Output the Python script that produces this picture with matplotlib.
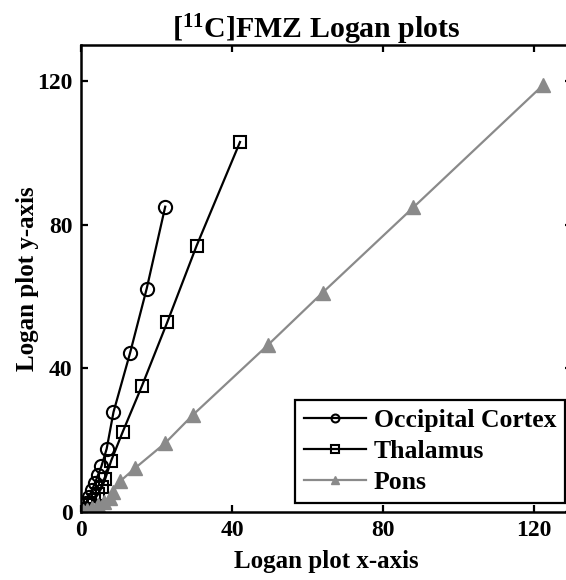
import matplotlib
matplotlib.use("Agg")
import matplotlib.pyplot as plt

plt.rcParams['font.family'] = ['Liberation Serif', 'DejaVu Serif']
plt.rcParams['font.weight'] = 'bold'
plt.rcParams['mathtext.fontset'] = 'custom'
plt.rcParams['mathtext.rm'] = 'Liberation Serif:bold'
plt.rcParams['mathtext.bf'] = 'Liberation Serif:bold'
plt.rcParams['mathtext.default'] = 'bf'

# Logan plot points per region
occ_x = [0.5, 1.3, 2.1, 2.9, 3.7, 4.5, 5.4, 6.8, 8.6, 13.0, 17.4, 22.3]
occ_y = [0.8, 2.5, 4.2, 6.1, 8.1, 10.3, 12.7, 17.6, 27.8, 44.3, 62.2, 85.0]

thal_x = [0.5, 1.3, 2.4, 3.4, 4.5, 5.6, 6.4, 8.0, 11.0, 16.1, 22.9, 30.6, 42.1]
thal_y = [0.3, 0.8, 2.0, 3.4, 5.0, 7.0, 9.2, 14.3, 22.2, 35.0, 53.0, 74.1, 103.0]

pons_x = [0.5, 1.6, 2.9, 4.5, 6.1, 7.6, 8.5, 10.3, 14.3, 22.3, 29.7, 49.4, 64.0, 88.0, 122.3]
pons_y = [0.3, 0.6, 1.1, 1.9, 2.8, 3.8, 5.7, 8.5, 12.2, 19.2, 27.1, 46.4, 61.1, 84.8, 118.8]

ticks = [0, 40, 80, 120]
grey = '#8a8a8a'

fig = plt.figure(figsize=(5.66, 5.8), dpi=100)
ax = fig.add_axes([0.1431, 0.1172, 0.8675, 0.8052])

ax.plot(occ_x, occ_y, '-o', color='black', lw=1.6, ms=9.5, mfc='none',
        mew=1.5, label='Occipital Cortex')
ax.plot(thal_x, thal_y, '-s', color='black', lw=1.6, ms=8.5, mfc='none',
        mew=1.5, label='Thalamus')
ax.plot(pons_x, pons_y, '-^', color=grey, lw=1.6, ms=10, mfc=grey,
        mec=grey, label='Pons')

ax.set_xlim(0, 130)
ax.set_ylim(0, 130)
ax.set_xticks(ticks)
ax.set_yticks(ticks)
ax.tick_params(direction='in', length=5, width=1.6, labelsize=17,
               top=True, right=True, pad=6)
for s in ax.spines.values():
    s.set_linewidth(1.8)

ax.set_xlabel('Logan plot x-axis', fontsize=18, fontweight='bold', labelpad=6)
ax.set_ylabel('Logan plot y-axis', fontsize=18, fontweight='bold', labelpad=-1)
ax.set_title(r'[$^{11}$C]FMZ Logan plots', fontsize=21.5, fontweight='bold',
             x=0.48, pad=5)

leg = ax.legend(loc='lower right', bbox_to_anchor=(565 / 566, 1 - 503 / 580),
                bbox_transform=fig.transFigure, borderaxespad=0,
                fontsize=18.5, markerscale=0.6, handlelength=2.4,
                handletextpad=0.3, labelspacing=0.32, borderpad=0.35,
                fancybox=False, framealpha=1, edgecolor='black')
leg.get_frame().set_linewidth(1.6)

fig.savefig('out.png', dpi=100)
